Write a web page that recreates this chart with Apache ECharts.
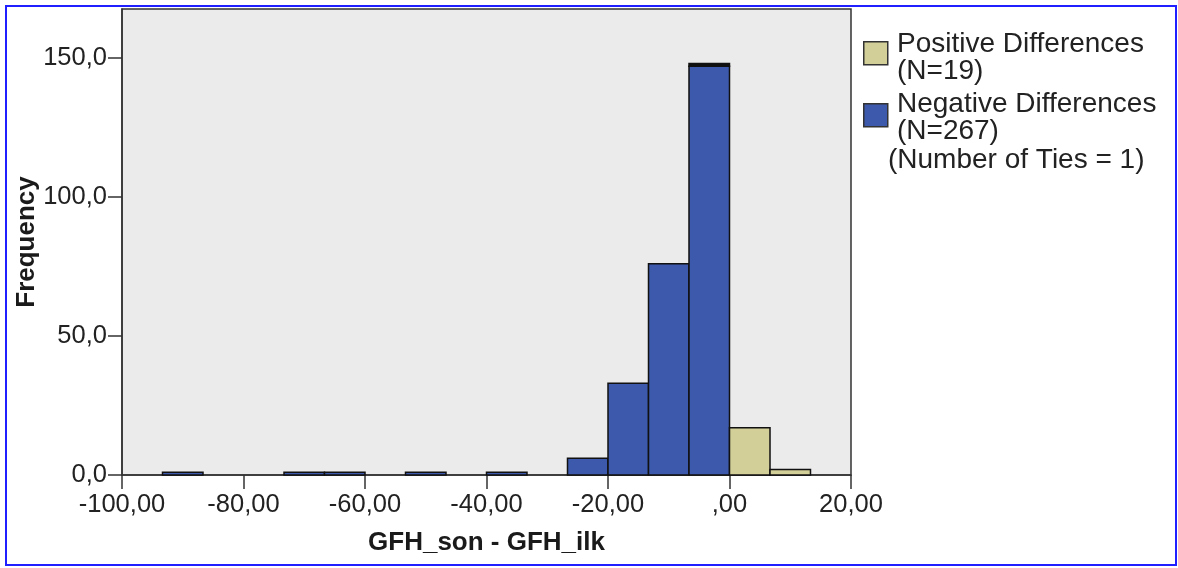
<!DOCTYPE html>
<html>
<head>
<meta charset="utf-8">
<script src="https://cdn.jsdelivr.net/npm/echarts@6/dist/echarts.min.js"></script>
<style>
html,body{margin:0;padding:0;background:#fff;}
#chart{position:absolute;left:0;top:0;width:1178px;height:568px;}
#frame{position:absolute;left:5px;top:5px;width:1168px;height:557px;border:2px solid #1f1fff;pointer-events:none;}
</style>
</head>
<body>
<div id="chart"></div>
<div id="frame"></div>
<script>
// Histogram bins (x = GFH_son - GFH_ilk), bin width 20/3
const negLeft  = [-93.333, -73.333, -66.667, -53.333, -40.000, -26.667, -20.000, -13.333, -6.667];
const negRight = [-86.667, -66.667, -60.000, -46.667, -33.333, -20.000, -13.333, -6.667, 0];
const negCount = [1, 1, 1, 1, 1, 6, 33, 76, 147];

const posLeft  = [0, 6.667];
const posRight = [6.667, 13.333];
const posCount = [17, 2];

// tie (zero difference) stacked on the last negative bin
const tieLeft  = [-6.667];
const tieRight = [0];
const tieBase  = [147];
const tieCount = [1];

const xTicks = [-100, -80, -60, -40, -20, 0, 20];
const yTicks = [0, 50, 100, 150];

const legendLabels = ['Positive Differences', '(N=19)', 'Negative Differences', '(N=267)', '(Number of Ties = 1)'];

const colNeg = '#3d59ab';
const colPos = '#d3cf98';
const colTie = '#111111';

function bins(left, right, count, base) {
  return left.map((l, i) => [l, right[i], base ? base[i] : 0, (base ? base[i] : 0) + count[i]]);
}

function renderRect(color) {
  return function (params, api) {
    const p0 = api.coord([api.value(0), api.value(3)]);
    const p1 = api.coord([api.value(1), api.value(2)]);
    return {
      type: 'rect',
      shape: { x: p0[0], y: p0[1], width: p1[0] - p0[0], height: p1[1] - p0[1] },
      style: { fill: color, stroke: '#111', lineWidth: 1.5 }
    };
  };
}

function fmtX(v) {
  let s = v.toFixed(2).replace('.', ',');
  if (s === '0,00') s = ',00';
  return s;
}
function fmtY(v) {
  return v.toFixed(1).replace('.', ',');
}

const font = 'Liberation Sans, Arial, sans-serif';
const chart = echarts.init(document.getElementById('chart'), null, { renderer: 'canvas' });

chart.setOption({
  animation: false,
  backgroundColor: '#ffffff',
  grid: {
    left: 122, right: 327, top: 9, bottom: 93,
    show: true, backgroundColor: '#ebebeb', borderColor: '#333', borderWidth: 1.5
  },
  xAxis: {
    type: 'value', min: -100, max: 20, interval: 20,
    name: 'GFH_son - GFH_ilk', nameLocation: 'middle', nameGap: 55,
    nameTextStyle: { fontFamily: font, fontSize: 26, fontWeight: 'bold', color: '#1a1a1a' },
    axisLine: { show: true, onZero: false, lineStyle: { color: '#333', width: 1.5 } },
    axisTick: { show: true, length: 14, customValues: xTicks, lineStyle: { color: '#333', width: 1.5 } },
    axisLabel: { margin: 17, fontFamily: font, fontSize: 25.5, color: '#222', customValues: xTicks, formatter: fmtX },
    splitLine: { show: false }
  },
  yAxis: {
    type: 'value', min: 0, max: 167.6,
    name: 'Frequency', nameLocation: 'middle', nameGap: 82, nameRotate: 90, nameMoveOverlap: false,
    nameTextStyle: { fontFamily: font, fontSize: 26, fontWeight: 'bold', color: '#1a1a1a' },
    axisLine: { show: true, onZero: false, lineStyle: { color: '#333', width: 1.5 } },
    axisTick: { show: true, length: 14, customValues: yTicks, lineStyle: { color: '#333', width: 1.5 } },
    axisLabel: { margin: 15, fontFamily: font, fontSize: 25.5, color: '#222', customValues: yTicks, formatter: fmtY },
    splitLine: { show: false }
  },
  series: [
    { type: 'custom', name: 'Negative Differences', data: bins(negLeft, negRight, negCount), renderItem: renderRect(colNeg), encode: { x: [0, 1], y: [2, 3] } },
    { type: 'custom', name: 'Positive Differences', data: bins(posLeft, posRight, posCount), renderItem: renderRect(colPos), encode: { x: [0, 1], y: [2, 3] } },
    { type: 'custom', name: 'Ties', data: bins(tieLeft, tieRight, tieCount, tieBase), renderItem: renderRect(colTie), encode: { x: [0, 1], y: [2, 3] } }
  ],
  graphic: [
    { type: 'rect', left: 863, top: 41, shape: { width: 24, height: 23 }, style: { fill: colPos, stroke: '#333', lineWidth: 1.5 } },
    { type: 'rect', left: 863, top: 103, shape: { width: 24, height: 23 }, style: { fill: colNeg, stroke: '#333', lineWidth: 1.5 } },
    { type: 'text', left: 897, top: 30, style: { text: legendLabels[0], font: '28px ' + font, fill: '#222' } },
    { type: 'text', left: 897, top: 57, style: { text: legendLabels[1], font: '28px ' + font, fill: '#222' } },
    { type: 'text', left: 897, top: 90, style: { text: legendLabels[2], font: '28px ' + font, fill: '#222' } },
    { type: 'text', left: 897, top: 117, style: { text: legendLabels[3], font: '28px ' + font, fill: '#222' } },
    { type: 'text', left: 888, top: 146, style: { text: legendLabels[4], font: '28px ' + font, fill: '#222' } }
  ]
});
</script>
</body>
</html>
